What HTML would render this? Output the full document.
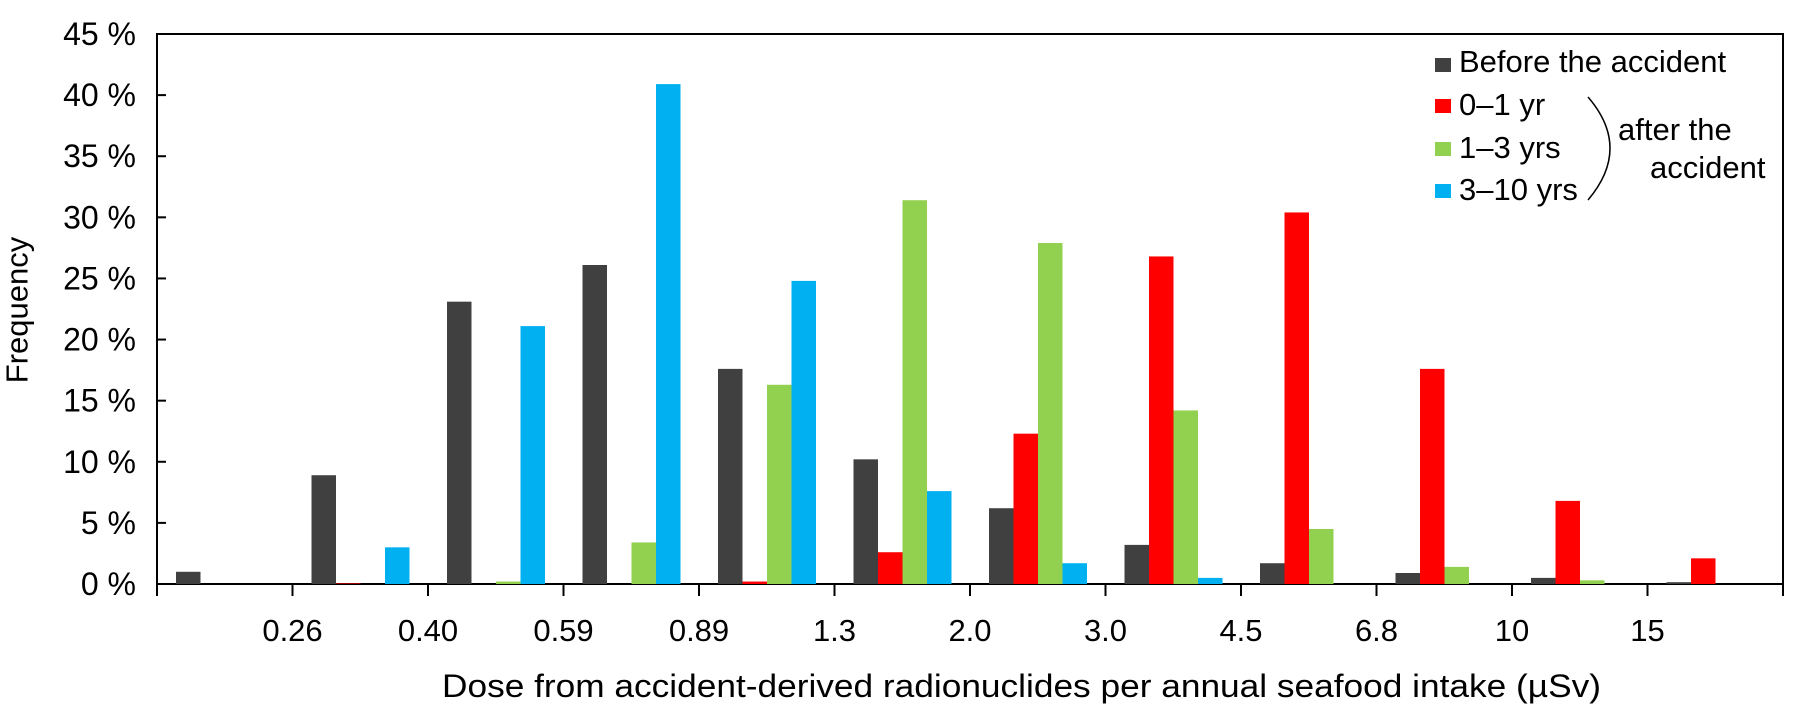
<!DOCTYPE html>
<html><head><meta charset="utf-8"><style>
html,body{margin:0;padding:0;background:#fff;}
svg{display:block;font-family:"Liberation Sans",Arial,sans-serif;}
</style></head><body>
<svg id="chart" width="1800" height="705" viewBox="0 0 1800 705" xmlns="http://www.w3.org/2000/svg">
<rect x="157" y="34" width="1626" height="550" fill="none" stroke="#000" stroke-width="2"/>
<g id="yaxis"></g>
<g id="xaxis"></g>
<g id="bars"></g>
<text x="17" y="310" transform="rotate(-90 17 310)" text-anchor="middle" dominant-baseline="central" font-size="31">Frequency</text>
<text x="442" y="697" font-size="32" textLength="1159" lengthAdjust="spacingAndGlyphs">Dose from accident-derived radionuclides per annual seafood intake (µSv)</text>
<g font-size="31">
<g><rect x="1435" y="58" width="16" height="14" fill="#404040"/><text x="1459" y="72">Before the accident</text></g>
<g><rect x="1435" y="99" width="16" height="14" fill="#ff0000"/><text x="1459" y="115">0–1 yr</text></g>
<g><rect x="1435" y="142" width="16" height="14" fill="#92d050"/><text x="1459" y="158">1–3 yrs</text></g>
<g><rect x="1435" y="184" width="16" height="14" fill="#00b0f0"/><text x="1459" y="200">3–10 yrs</text></g>
<path d="M1588 97 Q1632 148 1588 200" fill="none" stroke="#000" stroke-width="1.5"/>
<text x="1618" y="140">after the</text>
<text x="1650" y="178">accident</text>
</g>
</svg>
<script>
const tickLabels = ["0.26","0.40","0.59","0.89","1.3","2.0","3.0","4.5","6.8","10","15"];
const yTicks = [0,5,10,15,20,25,30,35,40,45];
const before = [1.0, 8.9, 23.1, 26.1, 17.6, 10.2, 6.2, 3.2, 1.7, 0.9, 0.5, 0.15];
const yr0to1 = [0, 0.05, 0, 0, 0.2, 2.6, 12.3, 26.8, 30.4, 17.6, 6.8, 2.1];
const yr1to3 = [0, 0, 0.2, 3.4, 16.3, 31.4, 27.9, 14.2, 4.5, 1.4, 0.3, 0];
const yr3to10 = [0, 3.0, 21.1, 40.9, 24.8, 7.6, 1.7, 0.5, 0, 0, 0, 0];
const NS="http://www.w3.org/2000/svg";
const L=157,R=1783,T=34,B=584,YMAX=45;
const nG=before.length, pitch=(R-L)/nG, bw=24.5, off=19;
function y(v){return B-(v/YMAX)*(B-T);}
function gx(i){return L+i*pitch;}
const yax=document.getElementById('yaxis');
yTicks.forEach(v=>{
  const ln=document.createElementNS(NS,'line');
  ln.setAttribute('x1',L);ln.setAttribute('x2',L+9);ln.setAttribute('y1',y(v));ln.setAttribute('y2',y(v));
  ln.setAttribute('stroke','#000');ln.setAttribute('stroke-width','2');
  
  
  yax.appendChild(ln);
  const t=document.createElementNS(NS,'text');
  t.setAttribute('x',136);t.setAttribute('y',y(v));t.setAttribute('text-anchor','end');
  t.setAttribute('dominant-baseline','central');t.setAttribute('font-size','32');
  t.textContent=v+' %';
  
  
  yax.appendChild(t);
});
const xax=document.getElementById('xaxis');
for(let i=0;i<=nG;i++){
  const ln=document.createElementNS(NS,'line');
  ln.setAttribute('x1',gx(i));ln.setAttribute('x2',gx(i));ln.setAttribute('y1',B);ln.setAttribute('y2',B+12);
  ln.setAttribute('stroke','#000');ln.setAttribute('stroke-width','2');
  
  
  xax.appendChild(ln);
}
tickLabels.forEach((s,i)=>{
  const t=document.createElementNS(NS,'text');
  t.setAttribute('x',gx(i+1));t.setAttribute('y',641);t.setAttribute('text-anchor','middle');
  t.setAttribute('font-size','31');
  t.textContent=s;
  
  
  xax.appendChild(t);
});
const series=[[before,'#404040','before'],[yr0to1,'#ff0000','0-1yr'],[yr1to3,'#92d050','1-3yrs'],[yr3to10,'#00b0f0','3-10yrs']];
const bars=document.getElementById('bars');
series.forEach((s,si)=>{
  s[0].forEach((v,i)=>{
    if(v<=0) return;
    const r=document.createElementNS(NS,'rect');
    r.setAttribute('x',gx(i)+off+si*bw);r.setAttribute('width',bw);
    r.setAttribute('y',y(v));r.setAttribute('height',B-y(v));
    r.setAttribute('fill',s[1]);
    
    
    bars.appendChild(r);
  });
});
</script>
</body></html>
